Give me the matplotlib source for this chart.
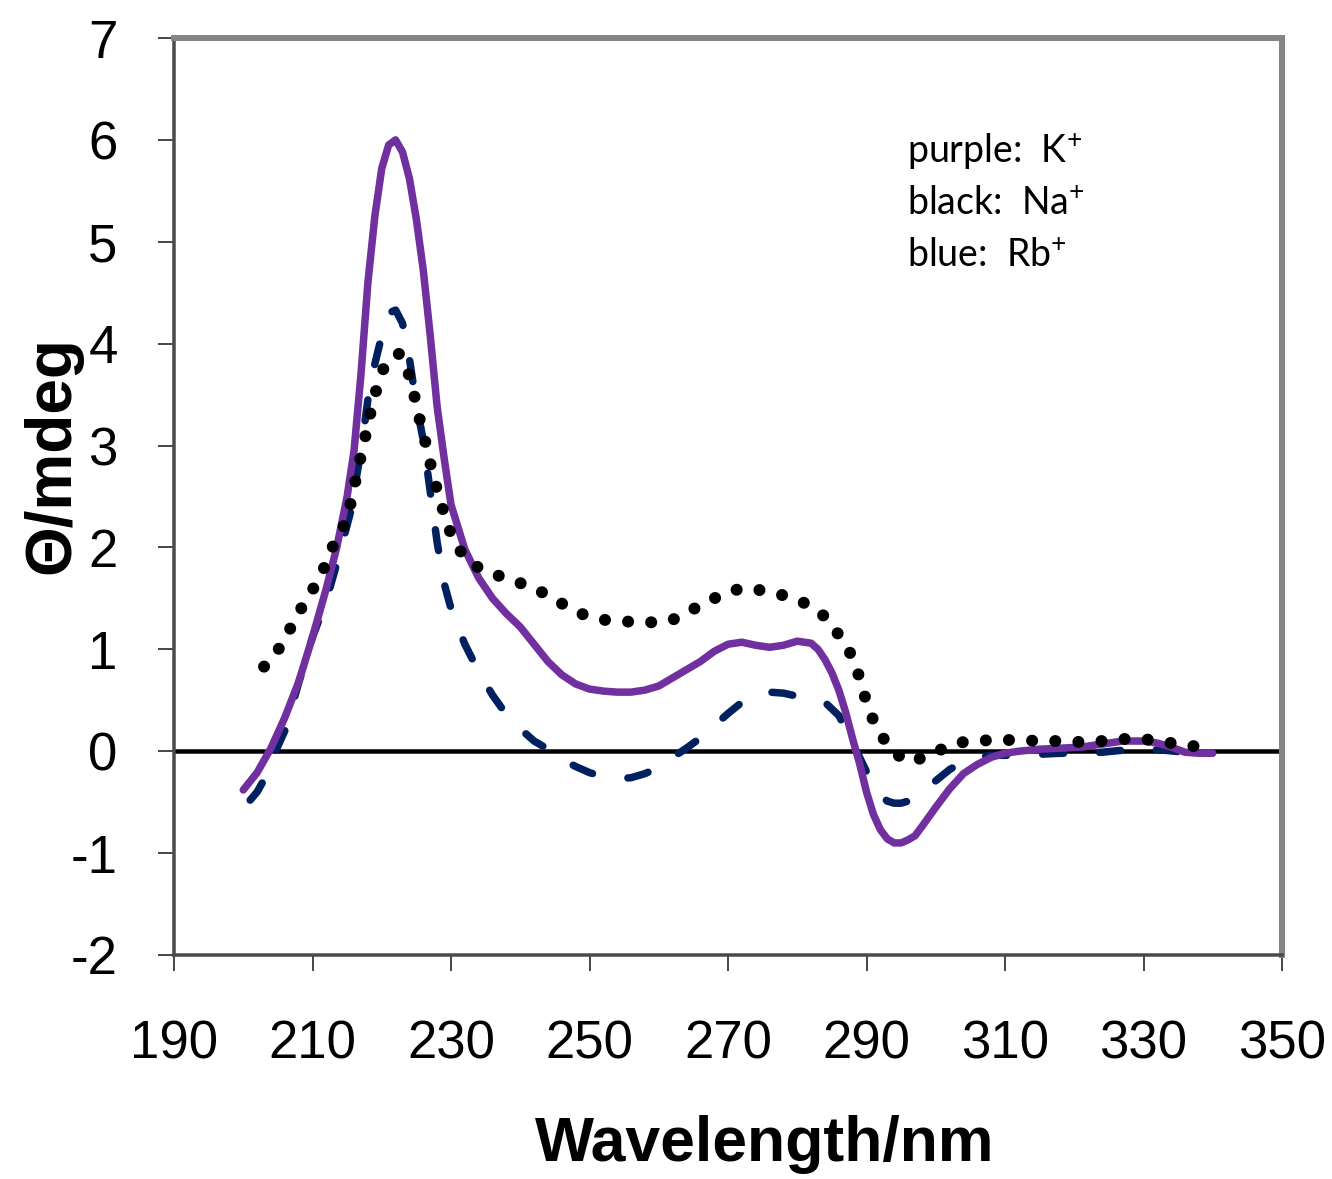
import matplotlib
matplotlib.use("Agg")
import matplotlib.pyplot as plt

# ---------------- data ----------------
k_wl = [200, 202, 204, 206, 208, 210, 212, 213.5, 215, 216, 217, 218, 219, 220, 221, 222,
        223, 224, 225, 226, 227, 228, 229, 230, 232, 234, 236, 238, 240, 242, 244, 246,
        248, 250, 252, 254, 256, 258, 260, 262, 264, 266, 268, 270, 272, 274, 276, 278,
        280, 282, 283, 284, 285, 286, 287, 288, 289, 290, 291, 292, 293, 294, 295, 296,
        297, 298, 300, 302, 304, 306, 308, 310, 312, 315, 318, 321, 324, 327, 330, 332,
        334, 336, 338, 340]
k_cd = [-0.38, -0.21, 0.03, 0.33, 0.68, 1.12, 1.60, 2.00, 2.50, 2.95, 3.70, 4.60, 5.25,
        5.72, 5.95, 6.00, 5.88, 5.62, 5.22, 4.72, 4.08, 3.38, 2.88, 2.42, 1.98, 1.70, 1.50,
        1.35, 1.22, 1.05, 0.88, 0.75, 0.66, 0.61, 0.59, 0.58, 0.58, 0.60, 0.64, 0.72, 0.80,
        0.88, 0.98, 1.05, 1.07, 1.04, 1.02, 1.04, 1.08, 1.06, 1.00, 0.90, 0.77, 0.60, 0.38,
        0.12, -0.12, -0.40, -0.62, -0.77, -0.86, -0.90, -0.90, -0.87, -0.83, -0.74, -0.55,
        -0.37, -0.22, -0.13, -0.06, -0.02, 0.00, 0.02, 0.03, 0.04, 0.07, 0.10, 0.10, 0.08,
        0.04, -0.01, -0.02, -0.02]

na_wl = [203, 205, 207, 209, 211, 213, 214.5, 215.5, 216.5, 217.5, 218.5, 219.5, 220.5,
         221.5, 222.5, 223.5, 224.5, 225.5, 226.5, 227.5, 228.5, 229.5, 230.5, 232, 234,
         236, 238, 240, 242, 244, 246, 248, 250, 252, 254, 256, 258, 260, 262, 264, 266,
         268, 270, 272, 274, 276, 278, 280, 282, 284, 285, 286, 287, 288, 289, 290, 291,
         292, 293, 294, 295, 296, 297, 298, 300, 302, 304, 306, 308, 310, 312, 315, 318,
         321, 324, 327, 330, 332, 334, 336, 338, 340]
na_cd = [0.83, 0.99, 1.23, 1.48, 1.69, 2.02, 2.21, 2.43, 2.75, 3.05, 3.36, 3.62, 3.80,
         3.88, 3.90, 3.80, 3.55, 3.25, 2.98, 2.68, 2.45, 2.22, 2.05, 1.90, 1.80, 1.74,
         1.70, 1.65, 1.60, 1.53, 1.45, 1.37, 1.32, 1.29, 1.28, 1.27, 1.27, 1.26, 1.29,
         1.36, 1.43, 1.50, 1.56, 1.60, 1.59, 1.56, 1.53, 1.49, 1.42, 1.32, 1.24, 1.14,
         1.04, 0.92, 0.72, 0.48, 0.30, 0.18, 0.06, -0.01, -0.06, -0.10, -0.10, -0.06,
         -0.01, 0.06, 0.09, 0.10, 0.11, 0.11, 0.11, 0.10, 0.10, 0.09, 0.10, 0.12, 0.12,
         0.10, 0.08, 0.05, 0.05, 0.07]

rb_wl = [201, 202, 203, 204, 205, 206, 208, 210, 212, 214, 215.5, 217, 218, 219, 220, 221,
         222, 223, 224, 225, 226, 227, 228, 229, 230, 231, 232, 234, 236, 238, 240, 242,
         244, 246, 248, 250, 252, 254, 256, 258, 260, 262, 264, 266, 268, 270, 272, 274,
         276, 278, 280, 282, 284, 286, 287, 288, 289, 290, 291, 292, 293, 294, 295, 296,
         297, 298, 300, 302, 304, 306, 308, 310, 312, 315, 318, 321, 324, 327, 330, 333,
         336, 338, 340]
rb_cd = [-0.48, -0.40, -0.28, -0.10, 0.05, 0.20, 0.67, 1.12, 1.48, 1.96, 2.35, 2.95, 3.45,
         3.80, 4.08, 4.30, 4.33, 4.20, 3.85, 3.40, 3.05, 2.55, 2.05, 1.65, 1.40, 1.22, 1.05,
         0.78, 0.55, 0.36, 0.22, 0.10, 0.02, -0.08, -0.15, -0.21, -0.25, -0.27, -0.26,
         -0.22, -0.16, -0.06, 0.03, 0.13, 0.25, 0.37, 0.48, 0.56, 0.58, 0.57, 0.54, 0.51,
         0.48, 0.35, 0.22, 0.08, -0.06, -0.20, -0.33, -0.43, -0.49, -0.51, -0.51, -0.49,
         -0.46, -0.40, -0.29, -0.18, -0.10, -0.06, -0.04, -0.04, -0.04, -0.03, -0.02,
         -0.02, -0.01, 0.01, 0.02, 0.01, -0.01, -0.02, -0.02]

x_ticks = [190, 210, 230, 250, 270, 290, 310, 330, 350]
y_ticks = [-2, -1, 0, 1, 2, 3, 4, 5, 6, 7]
legend_lines = ["purple:  K$^{+}$", "black:  Na$^{+}$", "blue:  Rb$^{+}$"]

# ---------------- style ----------------
plt.rcParams["font.family"] = ["Liberation Sans", "DejaVu Sans"]
plt.rcParams["mathtext.fontset"] = "custom"
plt.rcParams["mathtext.rm"] = "Lato"
plt.rcParams["mathtext.it"] = "Lato:italic"
plt.rcParams["mathtext.bf"] = "Lato:bold"

W, H = 1332, 1179
fig = plt.figure(figsize=(W / 100, H / 100), dpi=100)
ax = fig.add_axes([174 / W, 1 - 955 / H, (1282 - 174) / W, (955 - 38) / H])

px = 72 / 100  # points per pixel

ax.axhline(0, color="black", lw=4.5 * px, zorder=1)

ax.plot(rb_wl, rb_cd, color="#002060", lw=7.5 * px,
        linestyle=(0, (2.8, 4.8)), dash_capstyle="round", zorder=2)
ax.plot(k_wl, k_cd, color="#7030A0", lw=7.5 * px, solid_joinstyle="round",
        solid_capstyle="round", zorder=3)
ax.plot(na_wl, na_cd, color="black", lw=12 * px,
        linestyle=(0, (0.01, 1.92)), dash_capstyle="round", zorder=4)

ax.set_xlim(190, 350)
ax.set_ylim(-2, 7)
ax.set_xticks(x_ticks)
ax.set_yticks(y_ticks)
ax.set_xticklabels([str(v) for v in x_ticks])
ax.set_yticklabels([str(v) for v in y_ticks])

for s in ["top", "right"]:
    ax.spines[s].set_color("#858585")
    ax.spines[s].set_linewidth(6 * px)
for s in ["left", "bottom"]:
    ax.spines[s].set_color("#4a4a4a")
    ax.spines[s].set_linewidth(3.5 * px)

ax.tick_params(axis="both", direction="out", length=16 * px, width=2 * px,
               color="#4a4a4a", labelsize=38, labelcolor="black")
ax.tick_params(axis="x", pad=35)
ax.tick_params(axis="y", pad=29)

fig.text(765 / W, 1 - 1145 / H, "Wavelength/nm", ha="center", va="center",
         fontsize=45, fontweight="bold")
fig.text(52 / W, 1 - 455 / H, "\u0398/mdeg", ha="center", va="center",
         rotation=90, fontsize=46, fontweight="bold")

for i, t in enumerate(legend_lines):
    ax.text((907 - 174) / 1108, (955 - (152 + 52 * i)) / 917, t,
            transform=ax.transAxes, ha="left", va="center",
            fontsize=27, family=["Lato", "DejaVu Sans"])

fig.savefig("out.png", dpi=100)
